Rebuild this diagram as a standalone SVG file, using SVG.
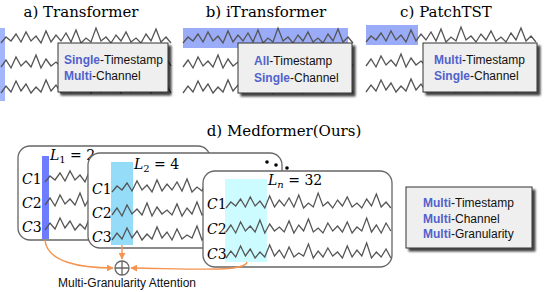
<svg xmlns="http://www.w3.org/2000/svg" xmlns:xlink="http://www.w3.org/1999/xlink" width="544" height="292" viewBox="0 0 544 292">
<style>
.title{font-family:"DejaVu Serif",serif;font-size:15px;fill:#000;text-anchor:middle}
.sans{font-family:"Liberation Sans",Arial,sans-serif;font-size:12px;fill:#111}
.hl{font-weight:bold;fill:#5262cc}
.math{font-family:"DejaVu Serif",serif;font-style:italic;font-size:14px;fill:#000}
.up{font-style:normal}
.wave{fill:none;stroke:#555;stroke-width:1.3;stroke-linejoin:miter}
.ibox{fill:#efefef;stroke:#333;stroke-width:1}
.panel{fill:#fff;stroke:#666;stroke-width:1.3}
.orange{fill:none;stroke:#f5934f;stroke-width:1.4}
</style>
<defs>
<filter id="sh" x="-10%" y="-10%" width="130%" height="140%">
<feDropShadow dx="3" dy="3" stdDeviation="1.3" flood-color="#000" flood-opacity="0.75"/>
</filter>
<marker id="ah" viewBox="0 0 10 10" refX="9" refY="5" markerWidth="7" markerHeight="7" orient="auto" markerUnits="userSpaceOnUse">
<path d="M0,0 L10,5 L0,10 z" fill="#f5934f"/>
</marker>
<polyline id="wA" class="wave" points="0,2 5,-4 10,0 15,-7 20,1 25,-9 30,0 35,-5 40,2 45,-10 50,1 55,-6 60,0 65,-8 70,1 75,-11 80,2 85,-3 90,1 95,-13 100,0 105,-4 110,2 115,-6 120,0 125,-9 130,1 135,-3 140,2 145,-7 150,0 155,-12 160,1 165,-4 170,2"/>
<polyline id="wB" class="wave" points="0,1 5,-6 10,2 15,-9 20,0 25,-5 30,1 35,-11 40,2 45,-7 50,0 55,-4 60,1 65,-10 70,2 75,-6 80,0 85,-12 90,1 95,-3 100,2 105,-8 110,0 115,-5 120,1 125,-9 130,2 135,-4 140,0 145,-13 150,1 155,-6 160,2 165,-8 170,0"/>
<polyline id="wC" class="wave" points="0,2 5,-5 10,1 15,-10 20,0 25,-7 30,2 35,-4 40,1 45,-11 50,0 55,-6 60,2 65,-9 70,1 75,-3 80,0 85,-12 90,2 95,-5 100,1 105,-8 110,0 115,-4 120,2 125,-10 130,1 135,-6 140,0 145,-13 150,2 155,-4 160,1 165,-7 170,2"/>
</defs>

<g id="panel-a">
<text class="title" x="81" y="17">a) Transformer</text>
<rect x="0" y="28" width="5" height="73" fill="#a3b5fb"/>
<use xlink:href="#wA" transform="translate(1,41)"/>
<use xlink:href="#wB" transform="translate(1,66)"/>
<use xlink:href="#wC" transform="translate(1,91)"/>
<rect class="ibox" x="58" y="43" width="110" height="49" filter="url(#sh)"/>
<text class="sans" x="64" y="64"><tspan class="hl">Single</tspan>-Timestamp</text>
<text class="sans" x="64" y="80"><tspan class="hl">Multi</tspan>-Channel</text>
</g>

<g id="panel-b">
<text class="title" x="266" y="17">b) iTransformer</text>
<rect x="183" y="28" width="165" height="20" fill="#9aabf7"/>
<use xlink:href="#wA" transform="translate(183,41)"/>
<use xlink:href="#wB" transform="translate(183,66)"/>
<use xlink:href="#wC" transform="translate(183,91)"/>
<rect class="ibox" x="238" y="43" width="114" height="50" filter="url(#sh)"/>
<text class="sans" x="254" y="65"><tspan class="hl">All</tspan>-Timestamp</text>
<text class="sans" x="254" y="82"><tspan class="hl">Single</tspan>-Channel</text>
</g>

<g id="panel-c">
<text class="title" x="446" y="17">c) PatchTST</text>
<rect x="366" y="25" width="52" height="20" fill="#9aabf7"/>
<use xlink:href="#wA" transform="translate(366,40)"/>
<use xlink:href="#wB" transform="translate(366,65)"/>
<use xlink:href="#wC" transform="translate(366,90)"/>
<rect class="ibox" x="423" y="43" width="114" height="49" filter="url(#sh)"/>
<text class="sans" x="434" y="64"><tspan class="hl">Multi</tspan>-Timestamp</text>
<text class="sans" x="434" y="80"><tspan class="hl">Single</tspan>-Channel</text>
</g>

<g id="title-d">
<text class="title" x="284" y="136">d) Medformer(Ours)</text>
</g>

<g id="gran-1">
<rect class="panel" x="18" y="146" width="192" height="94" rx="12"/>
<rect x="42" y="156" width="7" height="83" fill="#6e7dff"/>
<use xlink:href="#wA" transform="translate(45,180)"/>
<use xlink:href="#wB" transform="translate(45,204)"/>
<use xlink:href="#wC" transform="translate(45,228)"/>
<text class="math" x="22" y="184">C<tspan class="up">1</tspan></text>
<text class="math" x="22" y="208">C<tspan class="up">2</tspan></text>
<text class="math" x="22" y="232">C<tspan class="up">3</tspan></text>
<text class="math" x="50" y="160">L<tspan class="up" font-size="10" dy="3">1</tspan><tspan class="up" dy="-3"> = 2</tspan></text>
</g>

<g id="gran-2">
<rect class="panel" x="88" y="153" width="194" height="95" rx="12"/>
<rect x="111" y="162" width="22" height="83" fill="#94dcf8"/>
<use xlink:href="#wA" transform="translate(112,190)"/>
<use xlink:href="#wB" transform="translate(112,214)"/>
<use xlink:href="#wC" transform="translate(112,238)"/>
<text class="math" x="92" y="194">C<tspan class="up">1</tspan></text>
<text class="math" x="92" y="218">C<tspan class="up">2</tspan></text>
<text class="math" x="92" y="242">C<tspan class="up">3</tspan></text>
<text class="math" x="134" y="169">L<tspan class="up" font-size="10" dy="3">2</tspan><tspan class="up" dy="-3"> = 4</tspan></text>
</g>

<g id="dots">
<circle cx="267" cy="162" r="1.8" fill="#000"/>
<circle cx="276" cy="165" r="1.8" fill="#000"/>
<circle cx="287" cy="168" r="1.8" fill="#000"/>
</g>

<g id="gran-n">
<rect class="panel" x="203" y="171" width="189" height="96" rx="12"/>
<rect x="225" y="179" width="42" height="83" fill="#ccfcff"/>
<use xlink:href="#wA" transform="translate(226,206) scale(0.97,1)"/>
<use xlink:href="#wB" transform="translate(226,231) scale(0.97,1)"/>
<use xlink:href="#wC" transform="translate(226,256) scale(0.97,1)"/>
<text class="math" x="207" y="209">C<tspan class="up">1</tspan></text>
<text class="math" x="207" y="234">C<tspan class="up">2</tspan></text>
<text class="math" x="207" y="259">C<tspan class="up">3</tspan></text>
<text class="math" x="268" y="185">L<tspan font-size="10" dy="3">n</tspan><tspan class="up" dy="-3"> = 32</tspan></text>
</g>

<g id="connectors">
<path class="orange" d="M45,240 C47,262 80,268 113,268" marker-end="url(#ah)"/>
<path class="orange" d="M122,245 L122,259" marker-end="url(#ah)"/>
<path class="orange" d="M247,262 C245,272 200,269 131,268" marker-end="url(#ah)"/>
</g>

<g id="attention">
<circle cx="122" cy="268" r="7" fill="#fff" stroke="#666" stroke-width="1.3"/>
<path d="M115,268 H129 M122,261 V275" stroke="#666" stroke-width="1.3"/>
<text class="sans" x="127" y="287" text-anchor="middle">Multi-Granularity Attention</text>
</g>

<g id="summary">
<rect class="ibox" x="406" y="187" width="126" height="61" filter="url(#sh)"/>
<text class="sans" x="423" y="207"><tspan class="hl">Multi</tspan>-Timestamp</text>
<text class="sans" x="423" y="223"><tspan class="hl">Multi</tspan>-Channel</text>
<text class="sans" x="423" y="238"><tspan class="hl">Multi</tspan>-Granularity</text>
</g>
</svg>
